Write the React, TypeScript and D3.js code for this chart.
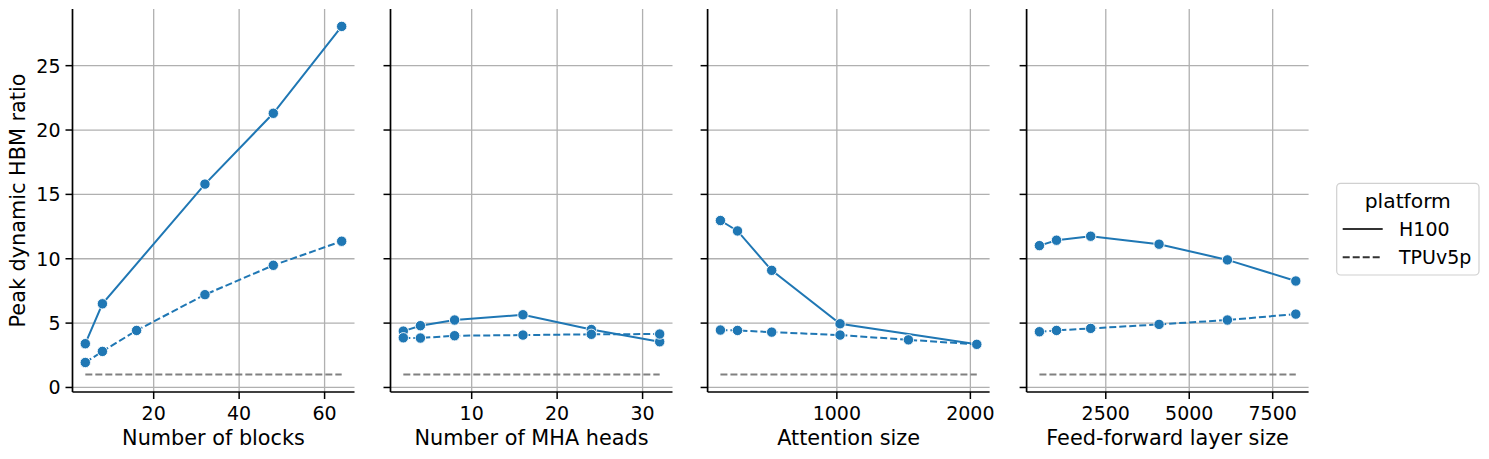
import * as d3 from 'd3';

// values
const yTicks = [0, 5, 10, 15, 20, 25];
const baseline = 1;

const blocksH100X = [4, 8, 32, 48, 64];
const blocksH100Y = [3.4, 6.5, 15.8, 21.3, 28.05];
const blocksTpuX = [4, 8, 16, 32, 48, 64];
const blocksTpuY = [1.94, 2.8, 4.43, 7.21, 9.49, 11.36];
const blocksTicks = [20, 40, 60];

const headsX = [2, 4, 8, 16, 24, 32];
const headsH100Y = [4.38, 4.8, 5.24, 5.65, 4.5, 3.55];
const headsTpuY = [3.86, 3.84, 4.02, 4.07, 4.13, 4.15];
const headsTicks = [10, 20, 30];

const attnH100X = [128, 256, 512, 1024, 2048];
const attnH100Y = [12.97, 12.16, 9.1, 4.95, 3.35];
const attnTpuX = [128, 256, 512, 1024, 1536, 2048];
const attnTpuY = [4.46, 4.43, 4.3, 4.07, 3.7, 3.35];
const attnTicks = [1000, 2000];

const ffX = [512, 1024, 2048, 4096, 6144, 8192];
const ffH100Y = [11.02, 11.44, 11.75, 11.13, 9.91, 8.27];
const ffTpuY = [4.33, 4.43, 4.59, 4.9, 5.24, 5.7];
const ffTicks = [2500, 5000, 7500];

const BLUE = '#1f77b4';
const FONT = 'DejaVu Sans';

type Pt = { x: number; y: number };
const zip = (xs: number[], ys: number[]): Pt[] => xs.map((x, i) => ({ x, y: ys[i] }));

const panels = [
  { label: 'Number of blocks', h100: zip(blocksH100X, blocksH100Y), tpu: zip(blocksTpuX, blocksTpuY), ticks: blocksTicks },
  { label: 'Number of MHA heads', h100: zip(headsX, headsH100Y), tpu: zip(headsX, headsTpuY), ticks: headsTicks },
  { label: 'Attention size', h100: zip(attnH100X, attnH100Y), tpu: zip(attnTpuX, attnTpuY), ticks: attnTicks },
  { label: 'Feed-forward layer size', h100: zip(ffX, ffH100Y), tpu: zip(ffX, ffTpuY), ticks: ffTicks },
];

const panelLeft = [72.5, 390.5, 707.6, 1026.6];
const panelWidth = 282;
const top = 9;
const bottom = 392;

// shared y: matplotlib-like 5% margins
const allY = panels.flatMap((p) => [...p.h100, ...p.tpu].map((d) => d.y)).concat([baseline]);
const yMin = d3.min(allY)!;
const yMax = d3.max(allY)!;
const yPad = (yMax - yMin) * 0.05;
const y = d3.scaleLinear().domain([yMin - yPad, yMax + yPad]).range([bottom, top]);

const Panel = ({ idx }: { idx: number }) => {
  const p = panels[idx];
  const left = panelLeft[idx];
  const allX = [...p.h100, ...p.tpu].map((d) => d.x);
  const [x0, x1] = d3.extent(allX) as [number, number];
  const xPad = (x1 - x0) * 0.05;
  const x = d3.scaleLinear().domain([x0 - xPad, x1 + xPad]).range([left, left + panelWidth]);
  const line = d3
    .line<Pt>()
    .x((d) => x(d.x))
    .y((d) => y(d.y));

  return (
    <g>
      {/* grid */}
      {p.ticks.map((t) => (
        <line key={'gx' + t} x1={x(t)} x2={x(t)} y1={top} y2={bottom} stroke="#b0b0b0" strokeWidth={1.3} />
      ))}
      {yTicks.map((t) => (
        <line key={'gy' + t} x1={left} x2={left + panelWidth} y1={y(t)} y2={y(t)} stroke="#b0b0b0" strokeWidth={1.3} />
      ))}
      {/* reference line */}
      <line
        x1={x(x0)}
        x2={x(x1)}
        y1={y(baseline)}
        y2={y(baseline)}
        stroke="#808080"
        strokeWidth={2}
        strokeDasharray="7 3"
      />
      <path d={line(p.h100)!} fill="none" stroke={BLUE} strokeWidth={2} />
      {p.h100.map((d, i) => (
        <circle key={'h' + i} cx={x(d.x)} cy={y(d.y)} r={5.2} fill={BLUE} stroke="#fff" strokeWidth={0.9} />
      ))}
      <path d={line(p.tpu)!} fill="none" stroke={BLUE} strokeWidth={2} strokeDasharray="7 3" />
      {p.tpu.map((d, i) => (
        <circle key={'t' + i} cx={x(d.x)} cy={y(d.y)} r={5.2} fill={BLUE} stroke="#fff" strokeWidth={0.9} />
      ))}
      {/* spines */}
      <line x1={left} x2={left} y1={top} y2={bottom} stroke="#000" strokeWidth={1.7} />
      <line x1={left} x2={left + panelWidth} y1={bottom} y2={bottom} stroke="#000" strokeWidth={1.7} />
      {/* y ticks */}
      {yTicks.map((t) => (
        <g key={'yt' + t}>
          <line x1={left - 7} x2={left} y1={y(t)} y2={y(t)} stroke="#000" strokeWidth={1.5} />
          {idx === 0 && (
            <text x={left - 12} y={y(t)} dy="0.36em" textAnchor="end" fontSize={19} fontFamily={FONT}>
              {t}
            </text>
          )}
        </g>
      ))}
      {/* x ticks */}
      {p.ticks.map((t) => (
        <g key={'xt' + t}>
          <line x1={x(t)} x2={x(t)} y1={bottom} y2={bottom + 7} stroke="#000" strokeWidth={1.5} />
          <text x={x(t)} y={420} textAnchor="middle" fontSize={19} fontFamily={FONT}>
            {t}
          </text>
        </g>
      ))}
      <text x={left + panelWidth / 2} y={445} textAnchor="middle" fontSize={20.8} fontFamily={FONT}>
        {p.label}
      </text>
    </g>
  );
};

export default function App() {
  return (
    <svg width={1489} height={459} style={{ position: 'absolute', left: 0, top: 0, background: '#fff' }}>
      <rect width={1489} height={459} fill="#fff" />
      {panels.map((_, i) => (
        <Panel key={i} idx={i} />
      ))}
      <text
        transform={`translate(25,${(top + bottom) / 2}) rotate(-90)`}
        textAnchor="middle"
        fontSize={20.8}
        fontFamily={FONT}
      >
        Peak dynamic HBM ratio
      </text>
      {/* legend */}
      <g fontFamily={FONT}>
        <rect x={1336.7} y={183.3} width={142.3} height={91.7} rx={4} fill="#fff" stroke="#d0d0d0" strokeWidth={1.2} />
        <text x={1407.8} y={208} textAnchor="middle" fontSize={20.3}>
          platform
        </text>
        <line x1={1342.7} x2={1382.7} y1={229} y2={229} stroke="#333" strokeWidth={2} />
        <text x={1399} y={235.5} fontSize={19}>
          H100
        </text>
        <line x1={1342.7} x2={1382.7} y1={257.3} y2={257.3} stroke="#333" strokeWidth={2} strokeDasharray="7 3" />
        <text x={1399} y={263.5} fontSize={19}>
          TPUv5p
        </text>
      </g>
    </svg>
  );
}
